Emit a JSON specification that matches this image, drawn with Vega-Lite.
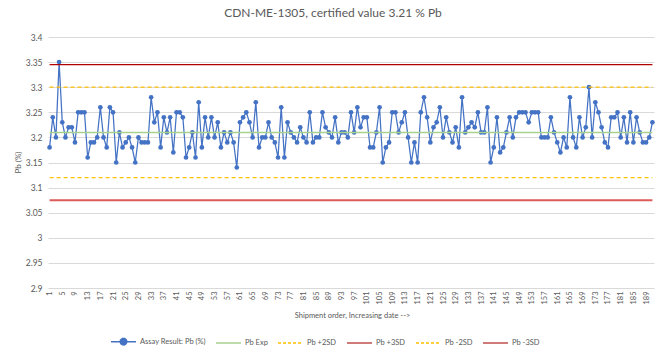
{
  "$schema": "https://vega.github.io/schema/vega-lite/v6.json",
  "autosize": "none",
  "width": 606,
  "height": 251,
  "padding": {"left": 48, "top": 37, "right": 12, "bottom": 67},
  "background": "white",
  "config": {
    "font": "Lato",
    "view": {"stroke": null},
    "axis": {"labelColor": "#595959", "titleColor": "#595959", "labelFont": "Lato", "titleFont": "Lato", "titleFontWeight": "normal"}
  },
  "title": {"text": "CDN-ME-1305, certified value 3.21 % Pb", "fontSize": 12, "font": "Lato", "fontWeight": "normal", "color": "#595959", "offset": 13, "dx": -18, "anchor": "middle", "frame": "group"},
  "datasets": {
    "assay": [
      {"n":1,"v":3.18},{"n":2,"v":3.24},{"n":3,"v":3.20},{"n":4,"v":3.35},{"n":5,"v":3.23},{"n":6,"v":3.20},{"n":7,"v":3.22},{"n":8,"v":3.22},{"n":9,"v":3.19},{"n":10,"v":3.25},
      {"n":11,"v":3.25},{"n":12,"v":3.25},{"n":13,"v":3.16},{"n":14,"v":3.19},{"n":15,"v":3.19},{"n":16,"v":3.20},{"n":17,"v":3.26},{"n":18,"v":3.20},{"n":19,"v":3.18},{"n":20,"v":3.26},
      {"n":21,"v":3.25},{"n":22,"v":3.15},{"n":23,"v":3.21},{"n":24,"v":3.18},{"n":25,"v":3.19},{"n":26,"v":3.20},{"n":27,"v":3.18},{"n":28,"v":3.15},{"n":29,"v":3.20},{"n":30,"v":3.19},
      {"n":31,"v":3.19},{"n":32,"v":3.19},{"n":33,"v":3.28},{"n":34,"v":3.23},{"n":35,"v":3.25},{"n":36,"v":3.18},{"n":37,"v":3.24},{"n":38,"v":3.21},{"n":39,"v":3.24},{"n":40,"v":3.17},
      {"n":41,"v":3.25},{"n":42,"v":3.25},{"n":43,"v":3.24},{"n":44,"v":3.16},{"n":45,"v":3.18},{"n":46,"v":3.21},{"n":47,"v":3.16},{"n":48,"v":3.27},{"n":49,"v":3.18},{"n":50,"v":3.24},
      {"n":51,"v":3.20},{"n":52,"v":3.24},{"n":53,"v":3.20},{"n":54,"v":3.23},{"n":55,"v":3.18},{"n":56,"v":3.21},{"n":57,"v":3.19},{"n":58,"v":3.21},{"n":59,"v":3.19},{"n":60,"v":3.14},
      {"n":61,"v":3.23},{"n":62,"v":3.24},{"n":63,"v":3.25},{"n":64,"v":3.23},{"n":65,"v":3.20},{"n":66,"v":3.27},{"n":67,"v":3.18},{"n":68,"v":3.20},{"n":69,"v":3.20},{"n":70,"v":3.23},
      {"n":71,"v":3.20},{"n":72,"v":3.19},{"n":73,"v":3.16},{"n":74,"v":3.26},{"n":75,"v":3.16},{"n":76,"v":3.23},{"n":77,"v":3.21},{"n":78,"v":3.20},{"n":79,"v":3.19},{"n":80,"v":3.22},
      {"n":81,"v":3.20},{"n":82,"v":3.19},{"n":83,"v":3.25},{"n":84,"v":3.19},{"n":85,"v":3.20},{"n":86,"v":3.20},{"n":87,"v":3.25},{"n":88,"v":3.22},{"n":89,"v":3.21},{"n":90,"v":3.20},
      {"n":91,"v":3.24},{"n":92,"v":3.19},{"n":93,"v":3.21},{"n":94,"v":3.21},{"n":95,"v":3.20},{"n":96,"v":3.25},{"n":97,"v":3.21},{"n":98,"v":3.26},{"n":99,"v":3.22},{"n":100,"v":3.24},
      {"n":101,"v":3.24},{"n":102,"v":3.18},{"n":103,"v":3.18},{"n":104,"v":3.21},{"n":105,"v":3.26},{"n":106,"v":3.15},{"n":107,"v":3.18},{"n":108,"v":3.19},{"n":109,"v":3.25},{"n":110,"v":3.25},
      {"n":111,"v":3.21},{"n":112,"v":3.23},{"n":113,"v":3.25},{"n":114,"v":3.20},{"n":115,"v":3.15},{"n":116,"v":3.19},{"n":117,"v":3.15},{"n":118,"v":3.25},{"n":119,"v":3.28},{"n":120,"v":3.24},
      {"n":121,"v":3.19},{"n":122,"v":3.22},{"n":123,"v":3.23},{"n":124,"v":3.26},{"n":125,"v":3.20},{"n":126,"v":3.24},{"n":127,"v":3.21},{"n":128,"v":3.19},{"n":129,"v":3.22},{"n":130,"v":3.18},
      {"n":131,"v":3.28},{"n":132,"v":3.21},{"n":133,"v":3.22},{"n":134,"v":3.23},{"n":135,"v":3.22},{"n":136,"v":3.25},{"n":137,"v":3.21},{"n":138,"v":3.21},{"n":139,"v":3.26},{"n":140,"v":3.15},
      {"n":141,"v":3.18},{"n":142,"v":3.24},{"n":143,"v":3.17},{"n":144,"v":3.18},{"n":145,"v":3.21},{"n":146,"v":3.24},{"n":147,"v":3.20},{"n":148,"v":3.24},{"n":149,"v":3.25},{"n":150,"v":3.25},
      {"n":151,"v":3.25},{"n":152,"v":3.23},{"n":153,"v":3.25},{"n":154,"v":3.25},{"n":155,"v":3.25},{"n":156,"v":3.20},{"n":157,"v":3.20},{"n":158,"v":3.20},{"n":159,"v":3.24},{"n":160,"v":3.21},
      {"n":161,"v":3.19},{"n":162,"v":3.17},{"n":163,"v":3.20},{"n":164,"v":3.18},{"n":165,"v":3.28},{"n":166,"v":3.20},{"n":167,"v":3.18},{"n":168,"v":3.24},{"n":169,"v":3.20},{"n":170,"v":3.22},
      {"n":171,"v":3.30},{"n":172,"v":3.20},{"n":173,"v":3.27},{"n":174,"v":3.25},{"n":175,"v":3.22},{"n":176,"v":3.19},{"n":177,"v":3.18},{"n":178,"v":3.24},{"n":179,"v":3.24},{"n":180,"v":3.25},
      {"n":181,"v":3.20},{"n":182,"v":3.24},{"n":183,"v":3.19},{"n":184,"v":3.25},{"n":185,"v":3.19},{"n":186,"v":3.24},{"n":187,"v":3.21},{"n":188,"v":3.19},{"n":189,"v":3.19},{"n":190,"v":3.20},
      {"n":191,"v":3.23}
    ],
    "refs": [
      {"series": "Pb Exp", "v": 3.21, "n": 1, "n2": 191},
      {"series": "Pb +2SD", "v": 3.30, "n": 1, "n2": 191},
      {"series": "Pb +3SD", "v": 3.345, "n": 1, "n2": 191},
      {"series": "Pb -2SD", "v": 3.12, "n": 1, "n2": 191},
      {"series": "Pb -3SD", "v": 3.075, "n": 1, "n2": 191}
    ]
  },
  "encoding": {
    "x": {
      "field": "n", "type": "quantitative",
      "scale": {"domain": [0.5, 191.5], "nice": false, "zero": false},
      "axis": {
        "values": [1,5,9,13,17,21,25,29,33,37,41,45,49,53,57,61,65,69,73,77,81,85,89,93,97,101,105,109,113,117,121,125,129,133,137,141,145,149,153,157,161,165,169,173,177,181,185,189],
        "labelAngle": 270, "labelFontSize": 7.5, "labelPadding": 3, "labelOverlap": false, "labelBound": false, "labelFlush": false,
        "grid": false, "ticks": false, "domain": false,
        "title": "Shipment order, Increasing date -->", "titleFontSize": 7.5, "titleY": 23, "titleBaseline": "top", "titleX": 304
      }
    },
    "y": {
      "field": "v", "type": "quantitative",
      "scale": {"domain": [2.9, 3.4], "nice": false, "zero": false},
      "axis": {
        "values": [2.9, 2.95, 3, 3.05, 3.1, 3.15, 3.2, 3.25, 3.3, 3.35, 3.4],
        "format": "~g", "labelFontSize": 8.5, "labelPadding": 6, "ticks": false, "domain": false,
        "gridColor": "#D9D9D9", "gridWidth": 1,
        "title": "Pb (%)", "titleFontSize": 8, "titleX": -30, "titleY": 125, "titleAngle": -90, "titleBaseline": "middle", "titleAlign": "center"
      }
    }
  },
  "layer": [
    {
      "data": {"name": "assay"},
      "mark": {"type": "line", "strokeWidth": 1.25, "point": {"filled": true, "size": 22, "opacity": 1}},
      "encoding": {
        "color": {
          "datum": "Assay Result: Pb (%)", "type": "nominal", "title": null,
          "scale": {
            "domain": ["Assay Result: Pb (%)", "Pb Exp", "Pb +2SD", "Pb +3SD", "Pb -2SD", "Pb -3SD"],
            "range": ["#4472C4", "#A9D18E", "#FFC000", "#C0504D", "#FFC000", "#C0504D"]
          },
          "legend": {
            "orient": "none", "legendX": 62, "legendY": 291, "direction": "horizontal", "title": null,
            "symbolSize": 625, "symbolStrokeWidth": 1.5, "labelFontSize": 7.5, "labelColor": "#595959", "labelFont": "Lato",
            "columnPadding": 7, "labelOffset": 3,
            "encode": {
              "symbols": {
                "update": {
                  "shape": {"signal": "datum.value === 'Assay Result: Pb (%)' ? 'M-1,0H1M-0.26,0A0.26,0.26 0 1,1 0.26,0A0.26,0.26 0 1,1 -0.26,0Z' : 'M-1,0H1'"},
                  "fill": {"signal": "datum.value === 'Assay Result: Pb (%)' ? '#4472C4' : 'transparent'"},
                  "strokeDash": {"signal": "indexof(datum.value, '2SD') >= 0 ? [3, 2] : [1, 0]"},
                  "opacity": {"value": 1}
                }
              }
            }
          }
        }
      }
    },
    {
      "data": {"name": "refs"},
      "transform": [{"filter": "datum.series === 'Pb Exp'"}],
      "mark": {"type": "rule", "strokeWidth": 1.5},
      "encoding": {"x2": {"field": "n2"}, "color": {"field": "series", "type": "nominal", "title": null}}
    },
    {
      "data": {"name": "refs"},
      "transform": [{"filter": "datum.series === 'Pb +2SD' || datum.series === 'Pb -2SD'"}],
      "mark": {"type": "rule", "strokeWidth": 1.25, "strokeDash": [4, 3]},
      "encoding": {"x2": {"field": "n2"}, "color": {"field": "series", "type": "nominal", "title": null}}
    },
    {
      "data": {"name": "refs"},
      "transform": [{"filter": "datum.series === 'Pb +3SD'"}],
      "mark": {"type": "rule", "strokeWidth": 1.25, "color": "#B00000"},
      "encoding": {"x2": {"field": "n2"}}
    },
    {
      "data": {"name": "refs"},
      "transform": [{"filter": "datum.series === 'Pb -3SD'"}],
      "mark": {"type": "rule", "strokeWidth": 2, "color": "#DC5A5A"},
      "encoding": {"x2": {"field": "n2"}}
    }
  ]
}
